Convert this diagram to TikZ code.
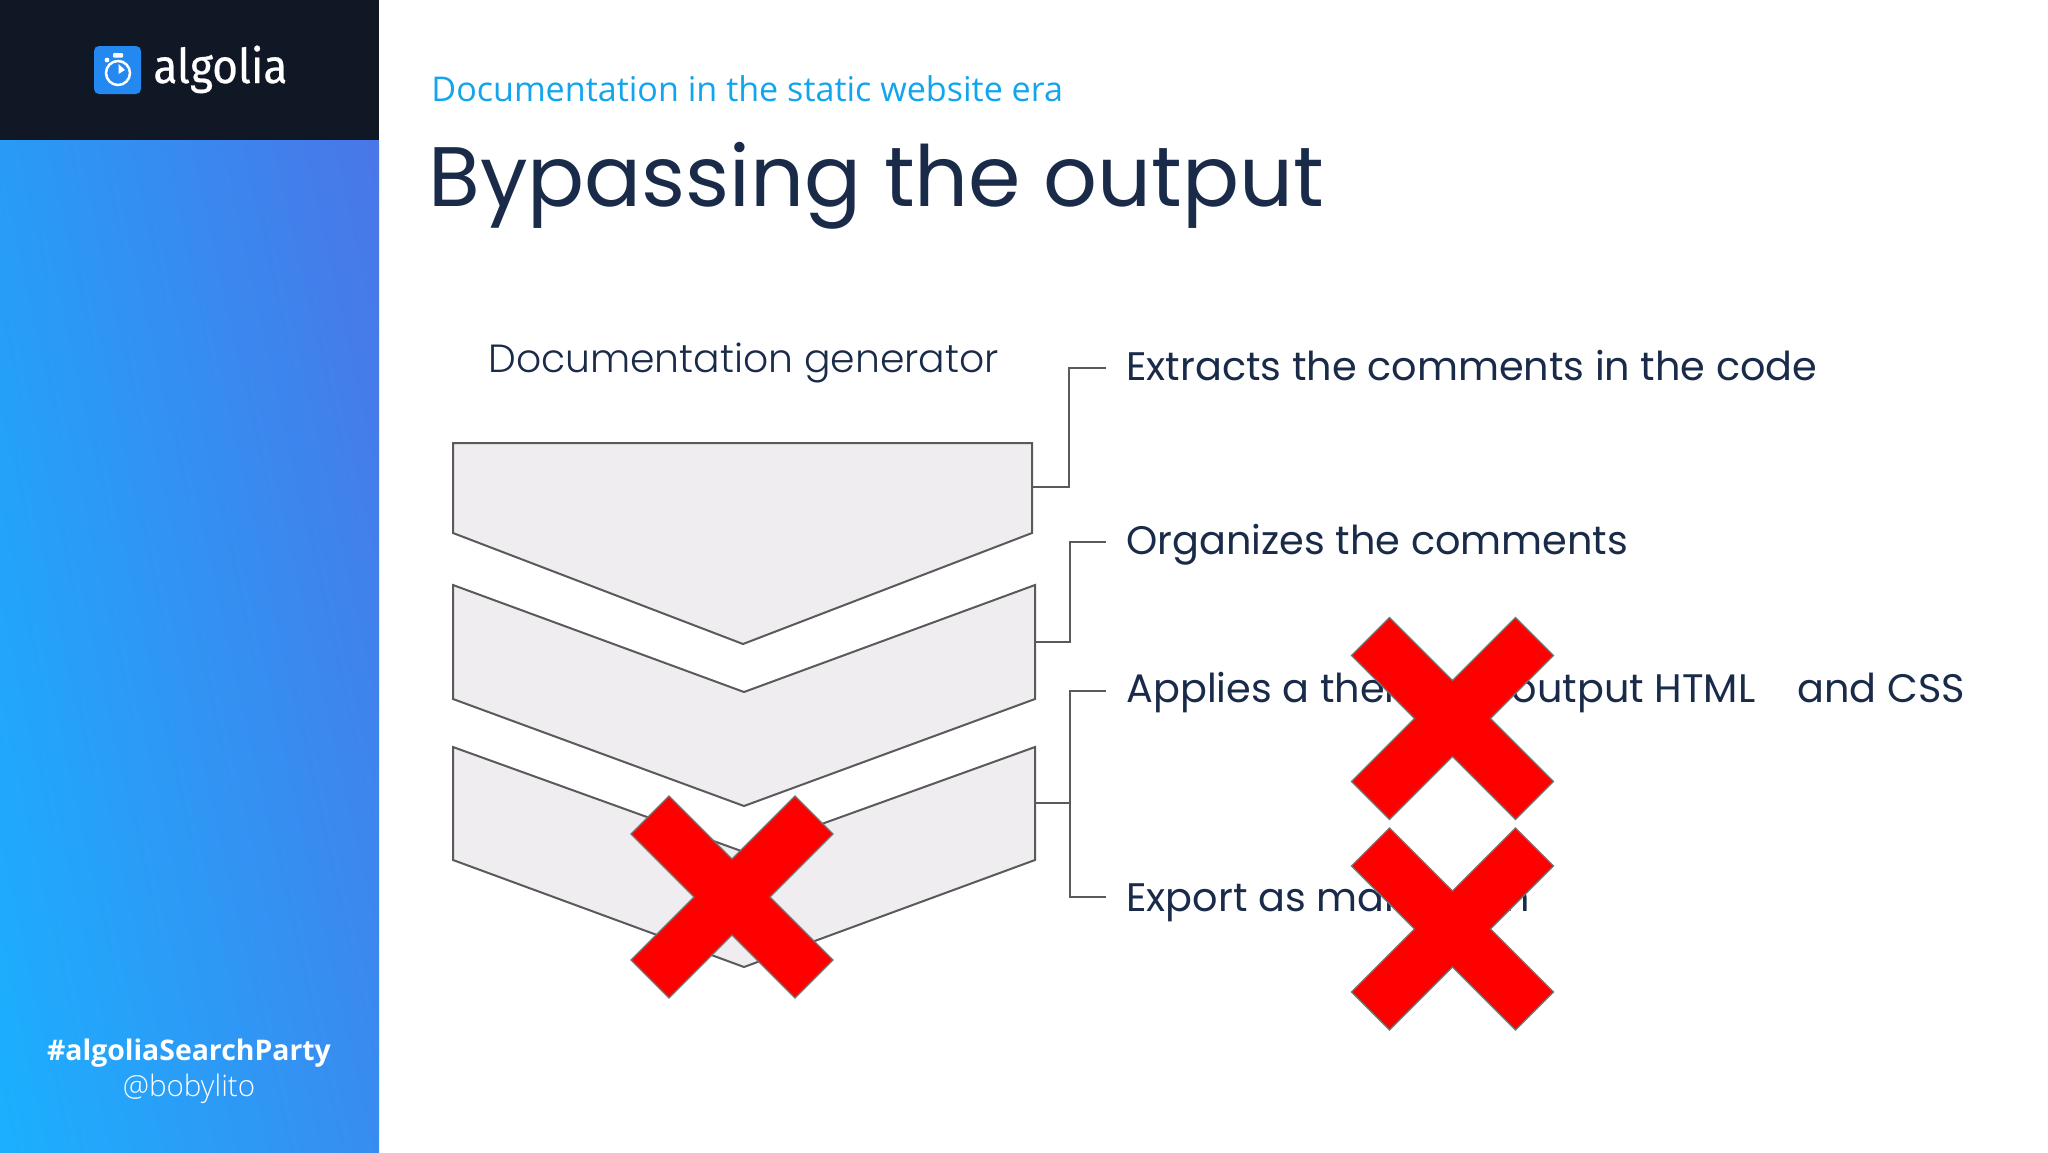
\documentclass[tikz,border=0pt]{standalone}
\usepackage{xcolor}
\usepackage{fontspec}
\usetikzlibrary{shadings}
\setmainfont{Poppins}
\newfontfamily\slidefont{Poppins}
\newfontfamily\lightfont{Poppins Light}
\newfontfamily\sidefont{Open Sans}
\newfontfamily\sidelight{Open Sans Light}
\newfontfamily\logofont[FakeStretch=0.92,FakeBold=0.5]{Fira Sans}

\definecolor{navy}{HTML}{1A2B49}
\definecolor{sky}{HTML}{12A5EE}
\definecolor{panel}{HTML}{101725}
\definecolor{chev}{HTML}{EFEDF0}
\definecolor{edge}{HTML}{5A5A5A}
\definecolor{gradll}{HTML}{1BB0FF}
\definecolor{gradlr}{HTML}{388CF0}
\definecolor{gradul}{HTML}{289BF7}
\definecolor{gradur}{HTML}{4A76E8}
\definecolor{logoblue}{HTML}{2389F0}

\tikzset{
    chevbox/.style={draw=edge, fill=chev, line width=1pt, line join=miter},
    link/.style={draw=edge, line width=1pt},
    cross/.style={draw=black!55, fill=red, line width=0.6pt},
    item/.style={anchor=base west, inner sep=0pt, text=navy, font=\slidefont\fontsize{19.9}{24}\selectfont},
}

\begin{document}
\begin{tikzpicture}[x=0.5pt, y=-0.5pt]
    \useasboundingbox (0,0) rectangle (2048,1152);
    % Side panel
    \shade[lower left=gradll, lower right=gradlr, upper left=gradul, upper right=gradur]
        (0,140) rectangle (379,1152);
    \fill[panel] (0,0) rectangle (379,140);
    % Logo
    \fill[logoblue, rounded corners=2.5pt] (94,46) rectangle (141,94);
    \draw[white, line width=1.25pt] (118,73) circle (12);
    \fill[white, rounded corners=0.5pt] (113,53) rectangle (123,57.5);
    \fill[white] (107,60) circle (2.4);
    \fill[white] (118.5,64) -- (125,70) -- (118.5,74) -- cycle;
    \node[anchor=base west, inner sep=0pt, text=white] (logoname) at (153,83)
        {\logofont\fontsize{24}{28}\selectfont algolia};
    \node[anchor=base, inner sep=0pt, text=white] (hashtag) at (189,1060)
        {\sidefont\bfseries\fontsize{14.2}{18}\selectfont \#algoliaSearchParty};
    \node[anchor=base, inner sep=0pt, text=white] (handle) at (189,1096)
        {\sidelight\fontsize{14.8}{18}\selectfont @bobylito};

    % Headings
    \node[anchor=base west, inner sep=0pt, text=sky] (topic) at (431,101)
        {\sidefont\fontsize{17.05}{22}\selectfont Documentation in the static website era};
    \node[anchor=base west, inner sep=0pt, text=navy] (title) at (428,206)
        {\slidefont\fontsize{42.2}{50}\selectfont Bypassing the output};
    \node[anchor=base west, inner sep=0pt, text=navy] (generator) at (488,372)
        {\lightfont\fontsize{19.65}{24}\selectfont Documentation generator};

    % Chevrons
    \draw[chevbox] (453,443) -- (1032,443) -- (1032,533) -- (743,644) -- (453,533) -- cycle;
    \foreach \top/\notch/\low/\tip in {585/692/699/806, 747/852/860/967} {
        \draw[chevbox] (453,\top) -- (744,\notch) -- (1035,\top) -- (1035,\low) -- (744,\tip) -- (453,\low) -- cycle;
    }

    % Labels
    \node[item] (extracts) at (1126,380) {Extracts the comments in the code};
    \node[item] (organizes) at (1126,554) {Organizes the comments};
    \node[item] (applies) at (1126,702) {Applies a theme to output HTML};
    \node[item] (andcss) at (1797,702) {and CSS};
    \node[item] (export) at (1126,911) {Export as markdown};

    % Brackets
    \coordinate (portA) at (1032,487);
    \coordinate (portB) at (1035,642);
    \coordinate (portC) at (1035,803);
    \coordinate (tipA) at (1106,368);
    \coordinate (tipB) at (1106,542);
    \coordinate (tipC) at (1106,691);
    \coordinate (tipD) at (1106,897);
    \draw[link] (portA) -- +(37,0) |- (tipA);
    \draw[link] (portB) -- +(35,0) |- (tipB);
    \draw[link] (portC) -- +(35,0) |- (tipC);
    \draw[link] (portC) -- +(35,0) |- (tipD);

    % Red crosses
    \foreach \cx/\cy in {732/897, 1452.5/718.5, 1452.5/929} {
        \draw[cross] (\cx,\cy) ++(0,-38) -- ++(63,-63) -- ++(38,38) -- ++(-63,63) -- ++(63,63) -- ++(-38,38)
            -- ++(-63,-63) -- ++(-63,63) -- ++(-38,-38) -- ++(63,-63) -- ++(-63,-63) -- ++(38,-38) -- cycle;
    }
\end{tikzpicture}
\end{document}
